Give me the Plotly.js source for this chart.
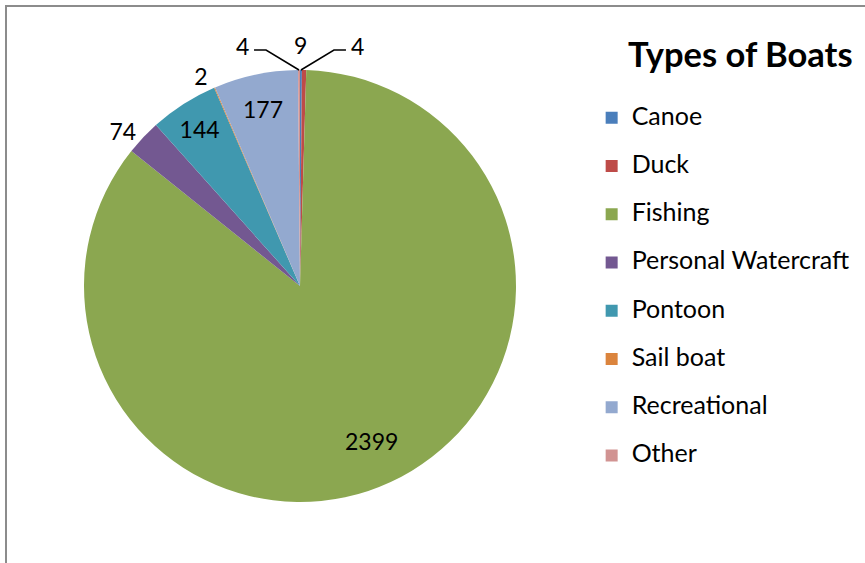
<!DOCTYPE html>
<html><head><meta charset="utf-8">
<script src="https://cdn.plot.ly/plotly-3.0.1.min.js"></script>
<style>html,body{margin:0;padding:0;background:#fff}#chart{width:865px;height:563px}</style>
</head><body><div id="chart"></div>
<script>
const categories = ["Canoe","Duck","Fishing","Personal Watercraft","Pontoon","Sail boat","Recreational","Other"];
const counts = [4, 9, 2399, 74, 144, 2, 177, 4];
const colors = ["#4A7EBB","#BE4B48","#8BA750","#735891","#4098AF","#DB843D","#93A9CF","#D19392"];
// how each value label is drawn: in the slice, outside it, or with a leader line
const labelModes = ["leader","above","inside","outside","inside","outside","inside","leader"];

const W = 865, H = 563;
const pieDomain = {x: [84/W, 516/W], y: [1-502/H, 1-70/H]};
const legendLabels = categories.map(c => '<span style="font-size:25px">' + c + '</span><br> ');
const valueFont = {family: "Lato", size: 23, color: "#000"};

const pieMain = {
  type: "pie", labels: legendLabels, values: counts, sort: false,
  direction: "clockwise", rotation: 0,
  marker: {colors: colors, line: {width: 0}},
  textinfo: "value",
  textposition: labelModes.map(m => m === "outside" ? "outside" : "none"),
  textfont: valueFont, outsidetextfont: valueFont,
  domain: pieDomain, hoverinfo: "none", showlegend: true
};
// transparent ring on top, used only to place the in-slice labels further out
const pieRing = {
  type: "pie", labels: legendLabels, values: counts, sort: false,
  direction: "clockwise", rotation: 0, hole: 0.58,
  marker: {colors: counts.map(() => "rgba(0,0,0,0)"), line: {width: 0}},
  textinfo: "value",
  textposition: labelModes.map(m => m === "inside" ? "inside" : "none"),
  insidetextorientation: "horizontal",
  textfont: valueFont, insidetextfont: valueFont,
  domain: pieDomain, hoverinfo: "none", showlegend: false
};

// geometry of the pie in paper units, for the tiny slices' labels at the top
const cxPx = (pieDomain.x[0] + pieDomain.x[1]) / 2 * W;
const cyPx = (1 - (pieDomain.y[0] + pieDomain.y[1]) / 2) * H;
const R = Math.min((pieDomain.x[1]-pieDomain.x[0]) * W, (pieDomain.y[1]-pieDomain.y[0]) * H) / 2;
const total = counts.reduce((a, b) => a + b, 0);
let cum = 0;
const midAngles = counts.map(v => { const a = (cum + v / 2) / total * 2 * Math.PI; cum += v; return a; });
const rimPoint = i => [cxPx + R * Math.sin(midAngles[i]), cyPx - R * Math.cos(midAngles[i])];

const annotations = [], shapes = [];
labelModes.forEach((m, i) => {
  if (m !== "leader" && m !== "above") return;
  const [px, py] = rimPoint(i);
  if (m === "above") {
    annotations.push({x: (px - 4) / W, y: 1 - (py - 25) / H, xref: "paper", yref: "paper", showarrow: false,
      text: String(counts[i]), font: valueFont, xanchor: "center", yanchor: "middle"});
    return;
  }
  const side = px < cxPx ? -1 : 1;
  const elbow = [px + side * 33, py - 20];
  const end = [px + side * 45, py - 20];
  shapes.push({type: "path", xref: "paper", yref: "paper",
    path: `M${px/W},${1-py/H} L${elbow[0]/W},${1-elbow[1]/H} L${end[0]/W},${1-end[1]/H}`,
    line: {color: "#000", width: 1.5}});
  annotations.push({x: (end[0] + side * 3) / W, y: 1 - (end[1] - 4) / H, xref: "paper", yref: "paper",
    showarrow: false, text: String(counts[i]), font: valueFont,
    xanchor: side < 0 ? "right" : "left", yanchor: "middle"});
});

shapes.push(
  {type: "line", xref: "paper", yref: "paper", x0: 6/W, x1: 6/W, y0: 0, y1: 1-5/H, line: {color: "#8C8C8C", width: 2}},
  {type: "line", xref: "paper", yref: "paper", x0: 6/W, x1: 1, y0: 1-6/H, y1: 1-6/H, line: {color: "#8C8C8C", width: 2}}
);

const layout = {
  width: W, height: H,
  margin: {l: 0, r: 0, t: 0, b: 0},
  paper_bgcolor: "#fff",
  font: {family: "Lato", color: "#000"},
  title: {text: "<b>Types of Boats</b>", x: 628/W, xanchor: "left", xref: "paper",
          y: 1-55/H, yanchor: "middle", yref: "paper", font: {family: "Lato", size: 34.5, color: "#000"}},
  legend: {x: 0.684, xanchor: "left", y: 1-100/H, yanchor: "top", valign: "top",
           font: {family: "Lato", size: 17.4, color: "#000"}, bgcolor: "rgba(0,0,0,0)"},
  annotations: annotations,
  shapes: shapes
};

Plotly.newPlot("chart", [pieMain, pieRing], layout, {staticPlot: true});
</script></body></html>
